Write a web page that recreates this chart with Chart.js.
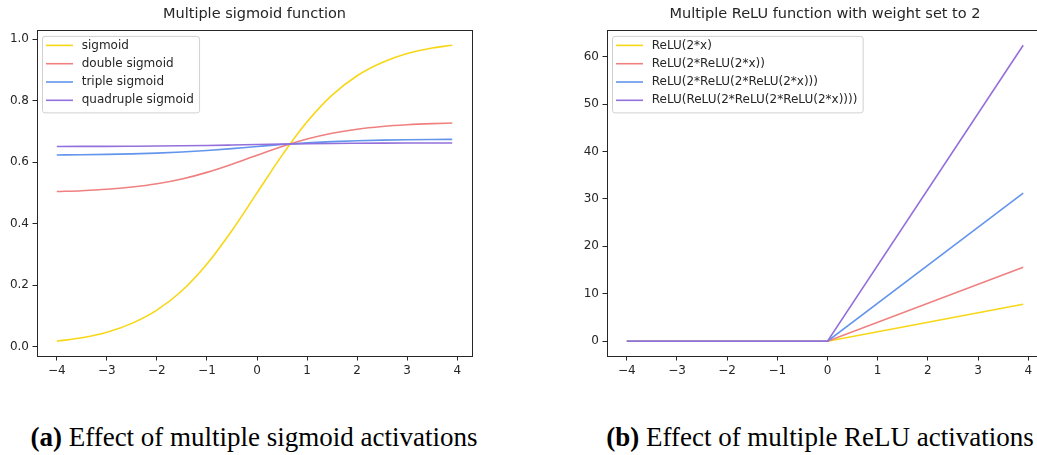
<!DOCTYPE html>
<html>
<head>
<meta charset="utf-8">
<script src="https://cdn.jsdelivr.net/npm/chart.js@4.4.0/dist/chart.umd.min.js"></script>
<style>
  html, body { margin: 0; padding: 0; background: #fff; }
  body { width: 1037px; height: 455px; overflow: hidden; position: relative; }
  .panel { position: absolute; top: 0; }
  #panelA { left: 0; }
  #panelB { left: 570px; }
  .cap { position: absolute; top: 424px; width: 600px; text-align: center;
         font-family: "Liberation Serif", "Times New Roman", serif; font-size: 27px;
         line-height: 27px; color: #000; white-space: nowrap; }
  #capA { left: -46px; }
  #capB { left: 520px; }
</style>
</head>
<body>
<div class="panel" id="panelA"><canvas id="sigChart" width="480" height="400"></canvas></div>
<div class="panel" id="panelB"><canvas id="reluChart" width="480" height="400"></canvas></div>
<div class="cap" id="capA"><b>(a)</b> Effect of multiple sigmoid activations</div>
<div class="cap" id="capB"><b>(b)</b> Effect of multiple ReLU activations</div>
<script>
// ---- data ----
const sigX = [-4, -3.5, -3, -2.5, -2, -1.5, -1, -0.5, 0, 0.5, 1, 1.5, 2, 2.5, 3, 3.5, 3.9];
const sigmoid1 = [0.018, 0.029, 0.047, 0.076, 0.119, 0.182, 0.269, 0.378, 0.500, 0.622, 0.731, 0.818, 0.881, 0.924, 0.953, 0.971, 0.980];
const sigmoid2 = [0.5045, 0.5072, 0.5117, 0.519, 0.5297, 0.5454, 0.5668, 0.5934, 0.6225, 0.6507, 0.675, 0.6938, 0.707, 0.7159, 0.7217, 0.7253, 0.7271];
const sigmoid3 = [0.6235, 0.6241, 0.6252, 0.6269, 0.6294, 0.6331, 0.638, 0.6441, 0.6508, 0.6572, 0.6626, 0.6668, 0.6697, 0.6717, 0.673, 0.6738, 0.6742];
const sigmoid4 = [0.651, 0.6512, 0.6514, 0.6518, 0.6523, 0.6532, 0.6543, 0.6557, 0.6572, 0.6586, 0.6598, 0.6608, 0.6614, 0.6619, 0.6622, 0.6623, 0.6624];
const sigLabels = ['sigmoid', 'double sigmoid', 'triple sigmoid', 'quadruple sigmoid'];

const reluX = [-4, 0, 3.9];
const relu1 = [0, 0, 7.8];
const relu2 = [0, 0, 15.6];
const relu3 = [0, 0, 31.2];
const relu4 = [0, 0, 62.4];
const reluLabels = ['ReLU(2*x)', 'ReLU(2*ReLU(2*x))', 'ReLU(2*ReLU(2*ReLU(2*x)))', 'ReLU(ReLU(2*ReLU(2*ReLU(2*x))))'];

const xTicks = [-4, -3, -2, -1, 0, 1, 2, 3, 4];
const sigYTicks = [0.0, 0.2, 0.4, 0.6, 0.8, 1.0];
const reluYTicks = [0, 10, 20, 30, 40, 50, 60];

const colors = ['#f7d716', '#f08080', '#6495ed', '#9370db'];
const ink = '#262626';
const font = 'DejaVu Sans';

// build {x,y} points from the arrays
function pts(xs, ys) { return xs.map((x, i) => ({ x: x, y: ys[i] })); }
function minus(s) { return String(s).replace('-', '\u2212'); }

// matplotlib style box + legend in the upper left
const frameAndLegend = {
  id: 'frameAndLegend',
  afterDraw(chart) {
    const { ctx, chartArea: a } = chart;
    ctx.save();
    ctx.strokeStyle = ink;
    ctx.lineWidth = 1;
    ctx.strokeRect(Math.round(a.left) + 0.5, Math.round(a.top) + 0.5,
                   Math.round(a.right - a.left), Math.round(a.bottom - a.top));

    const sets = chart.data.datasets;
    ctx.font = '12px "' + font + '"';
    const textW = Math.max(...sets.map(d => ctx.measureText(d.label).width));
    const bx = a.left + 5.5, by = a.top + 6;
    const bw = 39 + textW + 6, bh = 76.5;
    ctx.beginPath();
    ctx.roundRect(bx, by, bw, bh, 2.5);
    ctx.fillStyle = 'rgba(255,255,255,0.8)';
    ctx.fill();
    ctx.strokeStyle = '#d0d0d0';
    ctx.stroke();
    ctx.textBaseline = 'middle';
    sets.forEach((d, i) => {
      const y = a.top + 15 + i * 18.3;
      ctx.beginPath();
      ctx.moveTo(a.left + 9, y);
      ctx.lineTo(a.left + 36, y);
      ctx.strokeStyle = d.borderColor;
      ctx.lineWidth = 1.6;
      ctx.stroke();
      ctx.fillStyle = ink;
      ctx.fillText(d.label, a.left + 44.7, y);
    });
    ctx.restore();
  }
};

function makeOptions(title, yMin, yMax, yTicks, yFmt, rightPad) {
  return {
    responsive: false,
    animation: false,
    layout: { padding: { left: 0, right: rightPad, top: 0, bottom: 0 } },
    elements: { point: { radius: 0 }, line: { borderWidth: 1.6 } },
    scales: {
      x: {
        type: 'linear', min: -4.395, max: 4.295,
        afterBuildTicks: s => { s.ticks = xTicks.map(v => ({ value: v })); },
        afterFit: s => { s.height = 44; },
        grid: { drawOnChartArea: false, drawTicks: true, tickLength: 4.5, color: ink },
        border: { display: true, color: ink },
        ticks: { autoSkip: false, maxRotation: 0, padding: 3, color: ink,
                 font: { family: font, size: 12 }, callback: v => minus(v) }
      },
      y: {
        type: 'linear', min: yMin, max: yMax,
        afterBuildTicks: s => { s.ticks = yTicks.map(v => ({ value: v })); },
        afterFit: s => { s.width = 37; },
        grid: { drawOnChartArea: false, drawTicks: true, tickLength: 4.5, color: ink },
        border: { display: true, color: ink },
        ticks: { autoSkip: false, padding: 3.5, color: ink,
                 font: { family: font, size: 12 }, callback: yFmt }
      }
    },
    plugins: {
      legend: { display: false },
      tooltip: { enabled: false },
      title: {
        display: true, text: title, fullSize: false, color: ink,
        font: { family: font, size: 14.5, weight: 'normal' },
        padding: { top: 6, bottom: 7 }
      }
    }
  };
}

// later series are painted on top, like matplotlib
function makeSets(xs, series, labels, smooth) {
  return series.map((ys, i) => ({
    label: labels[i],
    data: pts(xs, ys),
    borderColor: colors[i],
    backgroundColor: colors[i],
    fill: false,
    tension: 0,
    order: series.length - 1 - i,
    cubicInterpolationMode: smooth ? 'monotone' : 'default'
  }));
}

new Chart(document.getElementById('sigChart'), {
  type: 'line',
  data: { datasets: makeSets(sigX, [sigmoid1, sigmoid2, sigmoid3, sigmoid4], sigLabels, true) },
  options: makeOptions('Multiple sigmoid function', -0.0301, 1.0283, sigYTicks, v => v.toFixed(1), 8),
  plugins: [frameAndLegend]
});

new Chart(document.getElementById('reluChart'), {
  type: 'line',
  data: { datasets: makeSets(reluX, [relu1, relu2, relu3, relu4], reluLabels, false) },
  options: makeOptions('Multiple ReLU function with weight set to 2', -3.12, 65.52, reluYTicks, v => String(v), 7),
  plugins: [frameAndLegend]
});
</script>
</body>
</html>
